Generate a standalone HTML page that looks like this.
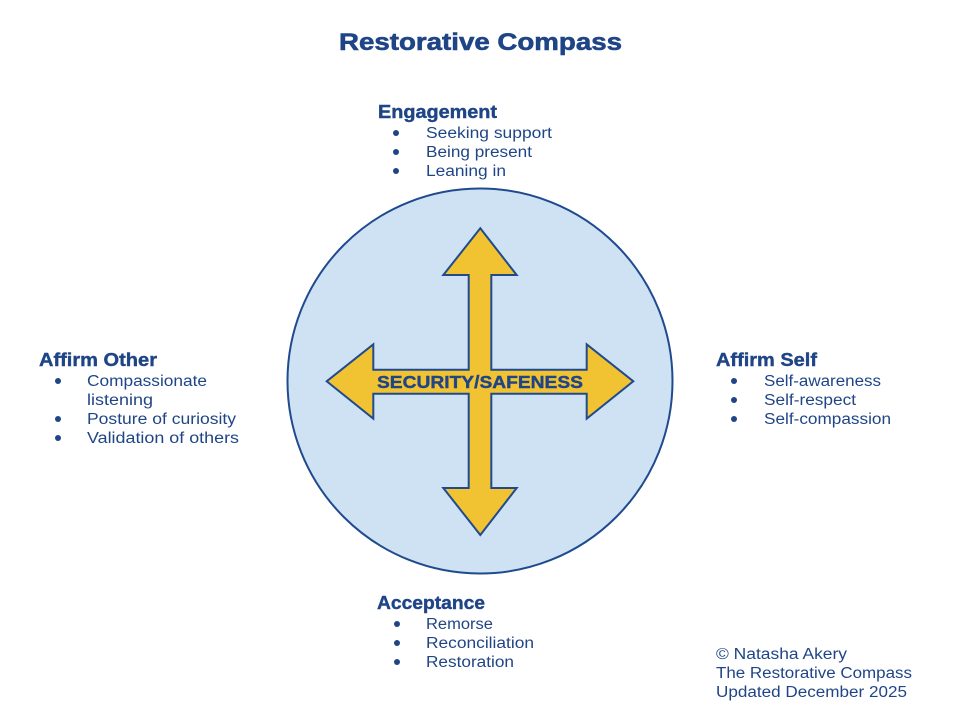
<!DOCTYPE html>
<html>
<head>
<meta charset="utf-8">
<style>
html,body{margin:0;padding:0;background:#fff;}
svg{display:block;}
text{font-family:"Liberation Sans",sans-serif;fill:#1f4586;}
.h{font-weight:bold;font-size:18px;stroke:#1f4586;stroke-width:0.4px;}
.t{font-size:15.5px;}
</style>
</head>
<body>
<svg width="960" height="720" viewBox="0 0 960 720" xmlns="http://www.w3.org/2000/svg">
<rect width="960" height="720" fill="#fff"/>
<text x="339" y="50" class="h" style="font-size:24px;stroke-width:0.6px" textLength="283" lengthAdjust="spacingAndGlyphs">Restorative Compass</text>

<circle cx="480" cy="381" r="192.5" fill="#cfe2f3" stroke="#1f4b8e" stroke-width="2"/>

<path d="M480.3,228.3 L516.7,275 L491.3,275 L491.3,369.7 L586.7,369.7 L586.7,344.3 L633.3,381.3 L586.7,418.7 L586.7,393.7 L491.3,393.7 L491.3,488 L516.7,488 L480.3,535 L443.3,488 L468.7,488 L468.7,393.7 L373.3,393.7 L373.3,418.7 L326.7,381.3 L373.3,344.3 L373.3,369.7 L468.7,369.7 L468.7,275 L443.3,275 Z" fill="#f1c232" stroke="#1f4b8e" stroke-width="2" stroke-linejoin="miter"/>
<text x="377" y="388" style="font-weight:bold;font-size:17.5px;stroke:#1f4586;stroke-width:0.4px" textLength="206" lengthAdjust="spacingAndGlyphs">SECURITY/SAFENESS</text>

<!-- Engagement -->
<text x="378" y="118" class="h" textLength="119" lengthAdjust="spacingAndGlyphs">Engagement</text>
<g fill="#1f4586">
<circle cx="396" cy="133" r="3"/><circle cx="396" cy="152" r="3"/><circle cx="396" cy="171" r="3"/>
</g>
<text x="426" y="138" class="t" textLength="126" lengthAdjust="spacingAndGlyphs">Seeking support</text>
<text x="426" y="157" class="t" textLength="106" lengthAdjust="spacingAndGlyphs">Being present</text>
<text x="426" y="176" class="t" textLength="80" lengthAdjust="spacingAndGlyphs">Leaning in</text>

<!-- Affirm Other -->
<text x="39" y="366" class="h" textLength="118" lengthAdjust="spacingAndGlyphs">Affirm Other</text>
<g fill="#1f4586">
<circle cx="58" cy="381" r="3"/><circle cx="58" cy="419" r="3"/><circle cx="58" cy="438" r="3"/>
</g>
<text x="87" y="386" class="t" textLength="120" lengthAdjust="spacingAndGlyphs">Compassionate</text>
<text x="87" y="405" class="t" textLength="66" lengthAdjust="spacingAndGlyphs">listening</text>
<text x="87" y="424" class="t" textLength="149" lengthAdjust="spacingAndGlyphs">Posture of curiosity</text>
<text x="87" y="443" class="t" textLength="152" lengthAdjust="spacingAndGlyphs">Validation of others</text>

<!-- Affirm Self -->
<text x="716" y="366" class="h" textLength="101" lengthAdjust="spacingAndGlyphs">Affirm Self</text>
<g fill="#1f4586">
<circle cx="734" cy="381" r="3"/><circle cx="734" cy="400" r="3"/><circle cx="734" cy="419" r="3"/>
</g>
<text x="764" y="386" class="t" textLength="117" lengthAdjust="spacingAndGlyphs">Self-awareness</text>
<text x="764" y="405" class="t" textLength="92" lengthAdjust="spacingAndGlyphs">Self-respect</text>
<text x="764" y="424" class="t" textLength="127" lengthAdjust="spacingAndGlyphs">Self-compassion</text>

<!-- Acceptance -->
<text x="377" y="609" class="h" textLength="108" lengthAdjust="spacingAndGlyphs">Acceptance</text>
<g fill="#1f4586">
<circle cx="397" cy="624" r="3"/><circle cx="397" cy="643" r="3"/><circle cx="397" cy="662" r="3"/>
</g>
<text x="426" y="629" class="t" textLength="67" lengthAdjust="spacingAndGlyphs">Remorse</text>
<text x="426" y="648" class="t" textLength="108" lengthAdjust="spacingAndGlyphs">Reconciliation</text>
<text x="426" y="667" class="t" textLength="88" lengthAdjust="spacingAndGlyphs">Restoration</text>

<!-- Footer -->
<text x="716" y="659" class="t" textLength="131" lengthAdjust="spacingAndGlyphs">© Natasha Akery</text>
<text x="716" y="678" class="t" textLength="196" lengthAdjust="spacingAndGlyphs">The Restorative Compass</text>
<text x="716" y="697" class="t" textLength="191" lengthAdjust="spacingAndGlyphs">Updated December 2025</text>
</svg>
</body>
</html>
